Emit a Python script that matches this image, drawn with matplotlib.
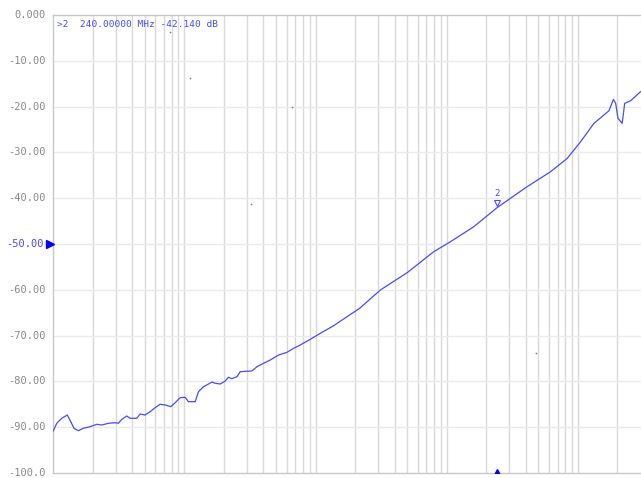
import numpy as np
import matplotlib
matplotlib.use("Agg")
import matplotlib.pyplot as plt
import matplotlib.transforms as mtransforms

# Trace: frequency (MHz) and S21 magnitude (dB)
freq_mhz = [0.1, 0.1062, 0.1159, 0.1279, 0.1358, 0.1439, 0.1552, 0.1694, 0.1906,
            0.2145, 0.2342, 0.2630, 0.2958, 0.3134, 0.3328, 0.3634, 0.3850, 0.4331,
            0.4590, 0.5012, 0.5473, 0.5974, 0.6524, 0.7124, 0.7874, 0.8492, 0.9273,
            1.0123, 1.0728, 1.2069, 1.279, 1.396, 1.525, 1.619, 1.716, 1.873, 2.046,
            2.167, 2.301, 2.512, 2.662, 2.995, 3.270, 3.571, 4.010, 4.510, 5.220,
            6.048, 6.794, 7.642, 9.111, 10.86, 13.72, 17.37, 21.67, 31.18, 49.86,
            79.58, 106.7, 160.8, 240.0, 399.0, 618.8, 830.0, 1049.0, 1325.0, 1579.0,
            1725.0, 1863.0, 1940.0, 2020.0, 2175.0, 2273.0, 2526.0, 3000.0]
s21_db = [-90.8, -89.15, -88.06, -87.34, -88.8, -90.24, -90.76, -90.24, -89.89,
          -89.37, -89.52, -89.15, -89.02, -89.15, -88.28, -87.55, -88.06, -88.06,
          -87.12, -87.34, -86.62, -85.74, -85.0, -85.15, -85.52, -84.65, -83.56,
          -83.47, -84.43, -84.43, -82.25, -81.16, -80.57, -80.13, -80.41, -80.57, -79.91,
          -79.1, -79.41, -78.97, -77.88, -77.79, -77.73, -76.79, -76.05, -75.33, -74.24,
          -73.65, -72.77, -72.05, -70.81, -69.5, -67.84, -65.87, -64.04, -60.04, -56.27,
          -51.68, -49.5, -46.22, -42.14, -37.71, -34.21, -31.29, -27.66, -23.65, -21.83,
          -20.9, -18.45, -19.28, -22.55, -23.65, -19.28, -18.71, -16.75]

# Stray display dots
dot_freq_mhz = [0.778, 1.107, 6.64, 3.23, 475.0]
dot_db = [-3.7, -13.8, -20.1, -41.3, -73.8]

y_ticks = [0, -10, -20, -30, -40, -50, -60, -70, -80, -90, -100]
y_tick_labels = ["0.000", "-10.00", "-20.00", "-30.00", "-40.00", "-50.00",
                 "-60.00", "-70.00", "-80.00", "-90.00", "-100.0"]
f_start, f_stop = 0.1, 3000.0
marker_freq = 240.0
marker_db = -42.14
marker_text = ">2  240.00000 MHz -42.140 dB"
ref_level = -50

blue = "#4a4aff"
grey_txt = "#8a8a8a"
mono = "DejaVu Sans Mono"

fig = plt.figure(figsize=(6.41, 4.78), dpi=100)
ax = fig.add_axes([53.3 / 641, 5 / 478, (640.5 - 53.3) / 641, (473 - 15) / 478])
ax.set_xscale("log")
ax.set_xlim(f_start, f_stop)
ax.set_ylim(-100, 0)

# grid
for d in range(-1, 4):
    for m in range(1, 10):
        f = m * 10.0 ** d
        if f_start < f < f_stop:
            ax.axvline(f, color="#d9d9d9", lw=1.0, zorder=0)
for yv in y_ticks[1:-1]:
    ax.axhline(yv, color="#ebebeb", lw=1.0, zorder=0)

ax.plot(freq_mhz, s21_db, color=blue, lw=0.9, zorder=3)
ax.scatter(dot_freq_mhz, dot_db, s=1.5, color="#777777", zorder=3, linewidths=0)

ax.set_yticks(y_ticks)
ax.set_yticklabels([])
ax.tick_params(axis="y", length=0)
ax.set_xticks([])
ax.xaxis.set_minor_locator(matplotlib.ticker.NullLocator())

ylab_tr = mtransforms.blended_transform_factory(ax.transAxes, ax.transData)
for yv, lab in zip(y_ticks, y_tick_labels):
    pad = -10 if yv == ref_level else -8
    tr = mtransforms.offset_copy(ylab_tr, fig=fig, x=pad, y=0, units="dots")
    ax.text(0, yv, lab, transform=tr, ha="right", va="center",
            fontfamily=mono, fontsize=7.5,
            color=blue if yv == ref_level else grey_txt, clip_on=False)

for s in ["left", "top", "bottom"]:
    ax.spines[s].set_color("#c8c8c8")
    ax.spines[s].set_linewidth(1.0)
ax.spines["right"].set_visible(False)

# reference level arrow (tip touching the left axis)
arr_tr = mtransforms.offset_copy(ax.transData, fig=fig, x=-3.8, y=0, units="dots")
ax.plot([f_start], [ref_level], marker=">", color="#0000ff", ms=5.5, clip_on=False,
        transform=arr_tr, zorder=5)
# marker arrow at bottom
ax.plot([marker_freq], [-100], marker="^", color="#0000ff", ms=6, clip_on=True, zorder=5)

# marker annotation on trace
ax.text(marker_freq, marker_db + 2.2, "2", color=blue, fontsize=6.5, fontfamily=mono,
        ha="center", va="bottom")
ax.plot([marker_freq], [marker_db + 1.2], marker="v", mfc="none", mec=blue, ms=4, mew=0.8)

ax.text(0.007, 0.99, marker_text, transform=ax.transAxes, color=blue, fontsize=6.8,
        fontfamily=mono, ha="left", va="top")

fig.savefig("out.png", dpi=100)
